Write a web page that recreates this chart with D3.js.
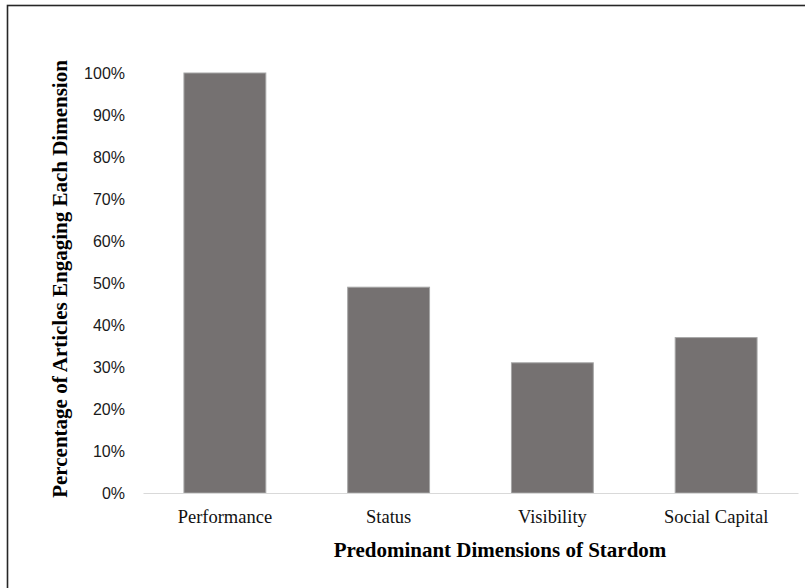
<!DOCTYPE html>
<html>
<head>
<meta charset="utf-8">
<script src="https://cdn.jsdelivr.net/npm/d3@7"></script>
<style>
  html, body { margin: 0; padding: 0; background: #fff; }
  svg { display: block; }
</style>
</head>
<body>
<svg id="chart" width="805" height="588"></svg>
<script>
const categories = ["Performance", "Status", "Visibility", "Social Capital"];
const values = [1.00, 0.49, 0.31, 0.37];
const yTicks = [0, 0.1, 0.2, 0.3, 0.4, 0.5, 0.6, 0.7, 0.8, 0.9, 1.0];
const xTitle = "Predominant Dimensions of Stardom";
const yTitle = "Percentage of Articles Engaging Each Dimension";

const svg = d3.select("#chart");

// outer frame
svg.append("rect")
  .attr("x", 7.5).attr("y", 5.5)
  .attr("width", 830).attr("height", 620)
  .attr("fill", "none")
  .attr("stroke", "#262626")
  .attr("stroke-width", 1.6);

const x = d3.scaleBand()
  .domain(categories)
  .range([143, 798])
  .paddingInner(0.5)
  .paddingOuter(0.25);

const y = d3.scaleLinear()
  .domain([0, 1])
  .range([493, 73]);

// y axis labels
const yAxis = d3.axisLeft(y)
  .tickValues(yTicks)
  .tickFormat(d3.format(".0%"))
  .tickSize(0)
  .tickPadding(18);

const gy = svg.append("g")
  .attr("transform", "translate(143,0)")
  .call(yAxis);
gy.select(".domain").remove();
gy.selectAll("text")
  .attr("font-family", "'Liberation Sans', Arial, sans-serif")
  .attr("font-size", 16)
  .attr("fill", "#1a1a1a");

// bars
svg.append("g")
  .selectAll("rect")
  .data(categories)
  .join("rect")
  .attr("x", d => x(d))
  .attr("y", (d, i) => y(values[i]))
  .attr("width", x.bandwidth())
  .attr("height", (d, i) => y(0) - y(values[i]))
  .attr("fill", "#757171")
  .attr("stroke", "#a6a6a6")
  .attr("stroke-width", 1);

// x axis
const xAxis = d3.axisBottom(x).tickSize(0).tickPadding(17);
const gx = svg.append("g")
  .attr("transform", "translate(0,493)")
  .call(xAxis);
gx.select(".domain")
  .attr("stroke", "#d9d9d9")
  .attr("stroke-width", 1.2);
gx.selectAll("text")
  .attr("font-family", "'Liberation Serif', 'Times New Roman', serif")
  .attr("font-size", 18.5)
  .attr("fill", "#111");

// axis titles
svg.append("text")
  .attr("x", 500)
  .attr("y", 557)
  .attr("text-anchor", "middle")
  .attr("font-family", "'Liberation Serif', 'Times New Roman', serif")
  .attr("font-weight", "bold")
  .attr("font-size", 21)
  .attr("fill", "#000")
  .text(xTitle);

svg.append("text")
  .attr("transform", "translate(67,279) rotate(-90)")
  .attr("text-anchor", "middle")
  .attr("font-family", "'Liberation Serif', 'Times New Roman', serif")
  .attr("font-weight", "bold")
  .attr("font-size", 21)
  .attr("fill", "#000")
  .text(yTitle);
</script>
</body>
</html>
